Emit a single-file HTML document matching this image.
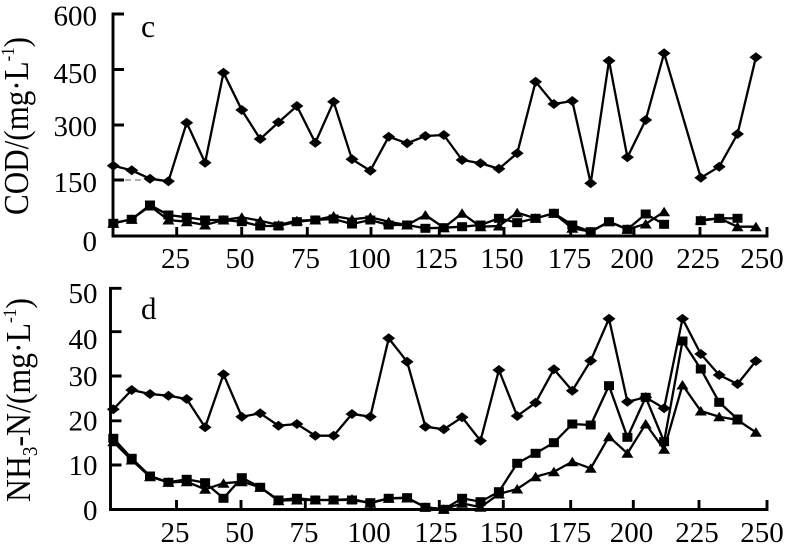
<!DOCTYPE html>
<html>
<head>
<meta charset="utf-8">
<style>
html,body{margin:0;padding:0;background:#fff;}
svg{display:block;}
text{font-family:"Liberation Serif","Times New Roman",serif;fill:#000;}
</style>
</head>
<body>
<svg width="799" height="550" viewBox="0 0 799 550" xmlns="http://www.w3.org/2000/svg">
<defs>
<marker id="md" markerWidth="14" markerHeight="12" refX="7" refY="6" markerUnits="userSpaceOnUse" overflow="visible"><path d="M0.5,6 L7,1 L13.5,6 L7,11Z" fill="#000"/></marker>
<marker id="ms" markerWidth="14" markerHeight="12" refX="7" refY="6" markerUnits="userSpaceOnUse" overflow="visible"><rect x="2" y="1.5" width="10" height="9" fill="#000"/></marker>
<marker id="mt" markerWidth="14" markerHeight="12" refX="7" refY="6" markerUnits="userSpaceOnUse" overflow="visible"><path d="M1,10.5 L7,1 L13,10.5Z" fill="#000"/></marker>
</defs>

<!-- ===== Top panel (c) ===== -->
<g stroke="#000" stroke-width="2.9" fill="none">
  <path d="M124,14 H113 V236 H767 V227"/>
  <path d="M113,69.5 H124 M113,125 H124 M113,180 H124"/>
  <path d="M176.7,236 V227 M241.7,236 V227 M307.3,236 V227 M371,236 V227 M439.3,236 V227 M504,236 V227 M570.7,236 V227 M634,236 V227 M700,236 V227"/>
</g>
<line x1="125" y1="180" x2="146" y2="180" stroke="#999" stroke-width="1.5" stroke-dasharray="6,4"/>

<g fill="none" stroke="#000" stroke-width="2.3" stroke-linejoin="miter">
<polyline marker-start="url(#md)" marker-mid="url(#md)" marker-end="url(#md)" points="113.3,165.7 131.7,170.3 150,178.7 168.4,181.3 186.7,122.7 205.1,162.7 223.5,72.7 241.8,110 260.2,139 278.5,122.3 296.9,106 315.3,142.7 333.6,101.7 352,159.3 370.3,170.7 388.7,136.7 407.1,143.3 425.4,136 443.8,135 462.1,160 480.5,163.3 498.9,168.7 517.2,153.3 535.6,81.7 553.9,104 572.3,101 590.7,183.3 609,60.7 627.4,157.3 645.7,120 664.1,53.3 700.8,177.7 719.2,166.7 737.5,134 755.9,57.3"/>
<polyline marker-start="url(#ms)" marker-mid="url(#ms)" marker-end="url(#ms)" points="113.3,223.3 131.7,219.3 150,205 168.4,215 186.7,217.3 205.1,220 223.5,220 241.8,221.7 260.2,226 278.5,226 296.9,221.7 315.3,220 333.6,219 352,224 370.3,220 388.7,225 407.1,225 425.4,228.3 443.8,227.7 462.1,226.7 480.5,225 498.9,218.3 517.2,222.7 535.6,218.3 553.9,213.3 572.3,225 590.7,231.7 609,221.7 627.4,229.3 645.7,214 664.1,224.3"/>
<polyline marker-start="url(#ms)" marker-mid="url(#ms)" marker-end="url(#ms)" points="700.8,220.7 719.2,218.3 737.5,218.3"/>
<polyline marker-start="url(#mt)" marker-mid="url(#mt)" marker-end="url(#mt)" points="113.3,223.3 131.7,219.3 150,206 168.4,220 186.7,221.7 205.1,225 223.5,220 241.8,217.3 260.2,220.7 278.5,225 296.9,220.7 315.3,220 333.6,216 352,219.3 370.3,217.3 388.7,221.7 407.1,225 425.4,215 443.8,227.7 462.1,213.3 480.5,226.7 498.9,226 517.2,212.7 535.6,218.3 553.9,213.3 572.3,228.3 590.7,231.7 609,221.7 627.4,229.3 645.7,224 664.1,211.7"/>
<polyline marker-start="url(#mt)" marker-mid="url(#mt)" marker-end="url(#mt)" points="700.8,220 719.2,218.3 737.5,226.7 755.9,226.7"/>
</g>

<g font-size="29" text-anchor="end">
  <text x="97" y="25.5">600</text>
  <text x="97" y="83">450</text>
  <text x="97" y="136">300</text>
  <text x="97" y="192">150</text>
  <text x="97" y="251">0</text>
</g>
<g font-size="29" text-anchor="middle">
  <text x="175.5" y="268">25</text>
  <text x="240" y="268">50</text>
  <text x="305.5" y="268">75</text>
  <text x="369" y="268">100</text>
  <text x="436" y="268">125</text>
  <text x="502" y="268">150</text>
  <text x="569.5" y="268">175</text>
  <text x="632" y="268">200</text>
  <text x="698" y="268">225</text>
  <text x="762" y="268">250</text>
</g>
<text x="141" y="37" font-size="32">c</text>
<text transform="translate(28,215) rotate(-90)" font-size="35" textLength="178" lengthAdjust="spacingAndGlyphs">COD/(mg·L<tspan font-size="19" dy="-14">-1</tspan><tspan font-size="35" dy="14">)</tspan></text>

<!-- ===== Bottom panel (d) ===== -->
<g stroke="#000" stroke-width="2.9" fill="none">
  <path d="M121.5,288.3 H110.5 V509.5 H767 V500"/>
  <path d="M110.5,331.7 H121.5 M110.5,376 H121.5 M110.5,420.8 H121.5 M110.5,465 H121.5"/>
  <path d="M176.5,509.5 V500 M241,509.5 V500 M305.3,509.5 V500 M371,509.5 V500 M439.3,509.5 V500 M503.3,509.5 V500 M570.7,509.5 V500 M633.3,509.5 V500 M699,509.5 V500"/>
</g>

<g fill="none" stroke="#000" stroke-width="2.3" stroke-linejoin="miter">
<polyline marker-start="url(#md)" marker-mid="url(#md)" marker-end="url(#md)" points="113.3,409.3 131.7,390 150,394 168.4,395.7 186.7,399 205.1,427.3 223.5,374.3 241.8,416.7 260.2,413.3 278.5,425.7 296.9,424 315.3,435.7 333.6,435.7 352,414 370.3,416.7 388.7,338.3 407.1,361.7 425.4,426.7 443.8,429.3 462.1,417.3 480.5,440.7 498.9,370 517.2,416 535.6,402.7 553.9,369.3 572.3,390.7 590.7,360.7 609,318.7 627.4,401.7 645.7,397.3 664.1,408.3 682.5,318.7 700.8,354 719.2,375 737.5,384 755.9,361"/>
<polyline marker-start="url(#ms)" marker-mid="url(#ms)" marker-end="url(#ms)" points="113.3,438.3 131.7,458.3 150,476 168.4,482.3 186.7,479.3 205.1,482.7 223.5,498.3 241.8,477.7 260.2,487.3 278.5,500 296.9,498.3 315.3,500 333.6,500 352,500 370.3,502.7 388.7,498.3 407.1,497.7 425.4,507.3 443.8,509.3 462.1,498.3 480.5,501.7 498.9,491.7 517.2,463.3 535.6,453.3 553.9,442.7 572.3,424 590.7,425 609,385.7 627.4,437.3 645.7,397.3 664.1,441.7 682.5,341 700.8,369 719.2,402.3 737.5,419"/>
<polyline marker-start="url(#mt)" marker-mid="url(#mt)" marker-end="url(#mt)" points="113.3,441.7 131.7,460 150,476.7 168.4,482.3 186.7,481.7 205.1,489.3 223.5,483.3 241.8,481.7 260.2,487.3 278.5,500.7 296.9,500 315.3,500 333.6,500 352,499 370.3,503.3 388.7,498.3 407.1,498 425.4,507.3 443.8,509.3 462.1,503.3 480.5,507.3 498.9,494 517.2,489 535.6,476.7 553.9,471.7 572.3,461.7 590.7,468.3 609,436.7 627.4,453.3 645.7,424 664.1,449.3 682.5,385 700.8,411 719.2,416.7 737.5,420 755.9,432.3"/>
</g>

<g font-size="29" text-anchor="end">
  <text x="97.5" y="303">50</text>
  <text x="97.5" y="349">40</text>
  <text x="97.5" y="386">30</text>
  <text x="97.5" y="430.5">20</text>
  <text x="97.5" y="475">10</text>
  <text x="97.5" y="520">0</text>
</g>
<g font-size="29" text-anchor="middle">
  <text x="175" y="542">25</text>
  <text x="239.5" y="542">50</text>
  <text x="304" y="542">75</text>
  <text x="369" y="542">100</text>
  <text x="436" y="542">125</text>
  <text x="501.5" y="542">150</text>
  <text x="569.5" y="542">175</text>
  <text x="631.5" y="542">200</text>
  <text x="697" y="542">225</text>
  <text x="762" y="542">250</text>
</g>
<text x="141" y="319" font-size="31">d</text>
<text transform="translate(30,502) rotate(-90)" font-size="35" textLength="204" lengthAdjust="spacingAndGlyphs">NH<tspan font-size="21" dy="7">3</tspan><tspan font-size="35" dy="-7">-N/(mg·L</tspan><tspan font-size="19" dy="-14">-1</tspan><tspan font-size="35" dy="14">)</tspan></text>
</svg>
</body>
</html>
